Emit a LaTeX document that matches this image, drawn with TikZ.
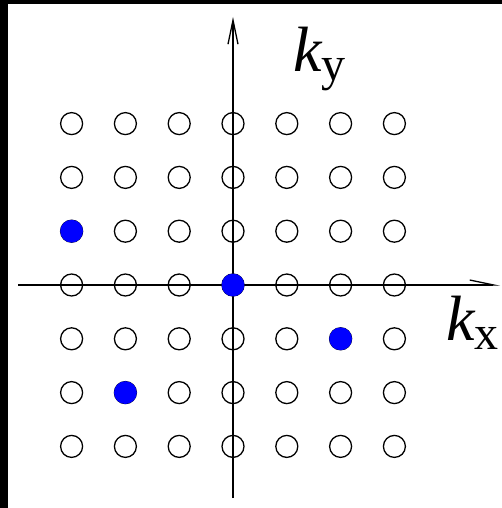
\documentclass[tikz,border=0pt]{standalone}
\usepackage{fontspec}
\setmainfont{Liberation Serif}
\usetikzlibrary{arrows.meta}
\tikzset{
  site/.style={circle, draw=black, line width=1.3pt, minimum size=22pt, inner sep=0pt},
  occ/.style={circle, fill=blue, draw=none, minimum size=22.8pt, inner sep=0pt},
  axis/.style={line width=1.3pt, draw=black},
  lbl/.style={inner sep=0pt, anchor=base west, text=black}
}
\newcommand{\klabel}[1]{{\fontsize{64}{64}\selectfont\itshape k}\raisebox{-9pt}{\fontsize{48}{48}\selectfont #1}}
\begin{document}
\begin{tikzpicture}[x=1pt,y=-1pt]
\useasboundingbox (0,0) rectangle (502,508);
\begin{scope}
\clip (0,0) rectangle (502,508);
\fill[white] (0,0) rectangle (502,508);
\fill[black] (0,0) rectangle (8,508);
\fill[black] (0,0) rectangle (502,4);
% axes
\coordinate (xl) at (18,285);
\coordinate (xr) at (500,285);
\coordinate (yb) at (233,498);
\coordinate (yt) at (233,17);
\draw[axis, -{Straight Barb[length=24pt,width=10pt,harpoon]}] (xl) -- (xr);
\draw[axis, -{Straight Barb[length=24pt,width=10pt]}] (yb) -- (yt);
% lattice
\foreach \i in {0,...,6}{
  \foreach \j in {0,...,6}{
    \node[site] (g-\i-\j) at ({233+53.8*(\i-3)},{285+53.8*(\j-3)}) {};
  }
}
\node[occ] (b1) at (g-0-2) {};
\node[occ] (b2) at (g-3-3) {};
\node[occ] (b3) at (g-5-4) {};
\node[occ] (b4) at (g-1-5) {};
% labels
\node[lbl] (ky) at (293,72) {\klabel{y}};
\node[lbl] (kx) at (446,340) {\klabel{x}};
\end{scope}
\end{tikzpicture}
\end{document}
